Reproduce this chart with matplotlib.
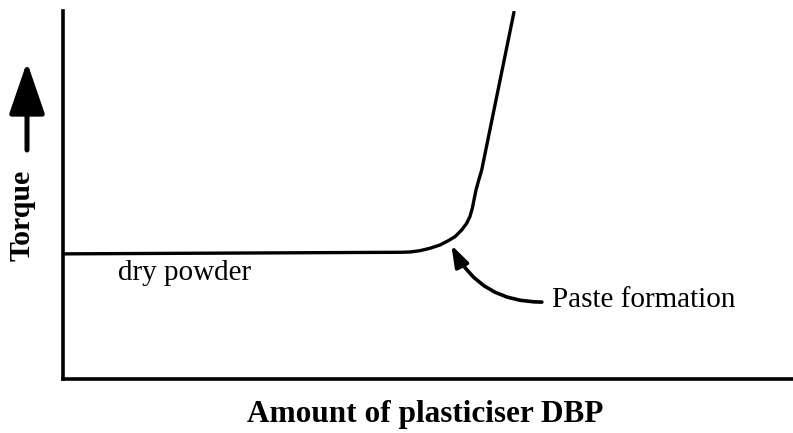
import matplotlib.pyplot as plt

# torque curve (arbitrary units)
dbp_amount = [0, 46.16, 47.53, 48.90, 50.27, 51.64, 52.78, 53.70, 54.62, 55.30,
              55.75, 56.07, 56.30, 56.58, 56.89, 57.36, 61.78]
torque     = [34.0, 34.43, 34.51, 34.86, 35.52, 36.41, 37.58, 38.67, 40.49, 42.31,
              44.13, 46.39, 48.64, 51.36, 53.62, 56.80, 99.7]

label_x     = "Amount of plasticiser DBP"
label_y     = "Torque"
label_dry   = "dry powder"
label_paste = "Paste formation"

serif = ['Liberation Serif', 'DejaVu Serif']

fig = plt.figure(figsize=(7.93, 4.33), dpi=100)
ax = fig.add_axes([0.0794, 0.1247, 0.9206, 0.85])

ax.plot(dbp_amount, torque, color='black', lw=2.4,
        solid_capstyle='round', solid_joinstyle='round')
ax.set_xlim(0, 100)
ax.set_ylim(0, 100)

for s in ['top', 'right']:
    ax.spines[s].set_visible(False)
for s in ['left', 'bottom']:
    ax.spines[s].set_linewidth(2.6)
ax.set_xticks([])
ax.set_yticks([])

ax.text(7.5, 28.8, label_dry, fontsize=21, family=serif, va='center', ha='left')

# curved pointer to the knee of the curve
ax.text(67.0, 21.4, label_paste, fontsize=21, family=serif, va='center', ha='left')
ax.annotate('', xy=(53.2, 36.4), xytext=(65.6, 20.9),
            arrowprops=dict(arrowstyle='-|>,head_length=0.65,head_width=0.22',
                            connectionstyle='angle3,angleA=0,angleB=117',
                            color='black', lw=2.6, mutation_scale=20,
                            shrinkA=0, shrinkB=0))

fig.text(0.536, 0.042, label_x, fontsize=22.5, family=serif,
         fontweight='bold', ha='center', va='center')

fig.text(0.028, 0.503, label_y, fontsize=21.5, family=serif,
         fontweight='bold', rotation=90, ha='center', va='center')
ax.annotate('', xy=(27, 371), xytext=(27, 283),
            xycoords='figure pixels', textcoords='figure pixels',
            arrowprops=dict(arrowstyle='-|>,head_length=1.6,head_width=0.55',
                            color='black', lw=3.6, mutation_scale=20,
                            shrinkA=0, shrinkB=0))

plt.savefig('out.png', dpi=100)
plt.close()
